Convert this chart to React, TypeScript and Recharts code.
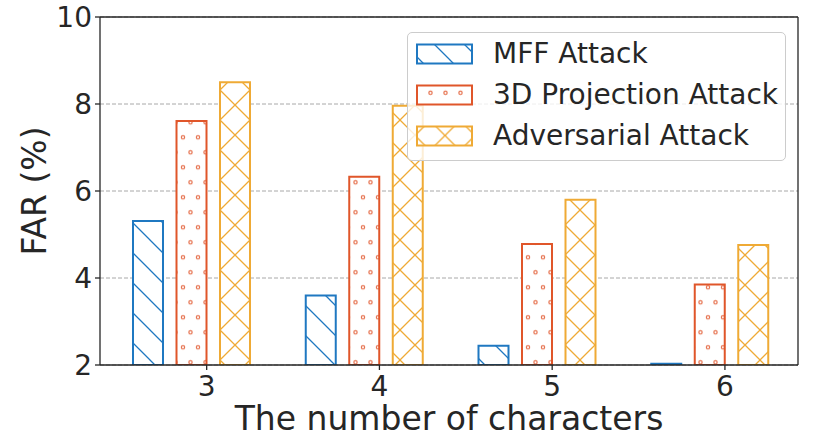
import { Bar, BarChart, CartesianGrid, Legend, XAxis, YAxis } from "recharts";

const categories = ["3", "4", "5", "6"];
const mffAttack = [5.31, 3.6, 2.44, 2.03];
const projectionAttack = [7.61, 6.33, 4.78, 3.85];
const adversarialAttack = [8.5, 7.96, 5.8, 4.76];
const yTicks = [2, 4, 6, 8, 10];
const seriesNames = ["MFF Attack", "3D Projection Attack", "Adversarial Attack"];

const data = categories.map((category, i) => ({
  category,
  mff: mffAttack[i],
  projection: projectionAttack[i],
  adversarial: adversarialAttack[i],
}));

const FONT = "DejaVu Sans";
const INK = "#262626";
const BLUE = "#1f78c1";
const RED = "#e0562a";
const DOT = "#e6704c";
const ORANGE = "#efaa35";

const BAR_W = 30;
const TICK_SHIFT = 15.3;

const mod = (v: number, m: number) => ((v % m) + m) % m;

// hatch tiles live in page coordinates (like matplotlib), so shift them by the svg's offset
function hatchDefs(prefix: string, ox: number, oy: number) {
  return (
    <defs>
      <pattern id={`${prefix}-mff`} patternUnits="userSpaceOnUse" width={30} height={30} x={mod(-ox, 30)} y={mod(-oy, 30)}>
        <rect width={30} height={30} fill="#fff" />
        <path d="M-2,-2L32,32M-2,28L2,32M28,-2L32,2" stroke={BLUE} strokeWidth={1.3} />
      </pattern>
      <pattern id={`${prefix}-projection`} patternUnits="userSpaceOnUse" width={15} height={30} x={mod(3 - ox, 15)} y={mod(17.3 - oy, 30)}>
        <rect width={15} height={30} fill="#fff" />
        {[[0, 0], [15, 0], [0, 30], [15, 30], [7.5, 15]].map(([cx, cy]) => (
          <circle key={`${cx}-${cy}`} cx={cx} cy={cy} r={1.7} fill="none" stroke={DOT} strokeWidth={1.15} />
        ))}
      </pattern>
      <pattern id={`${prefix}-adversarial`} patternUnits="userSpaceOnUse" width={30} height={30} x={mod(10 - ox, 30)} y={mod(-oy, 30)}>
        <rect width={30} height={30} fill="#fff" />
        <path d="M-2,-2L32,32M32,-2L-2,32M-2,28L2,32M28,-2L32,2M28,32L32,28M-2,2L2,-2" stroke={ORANGE} strokeWidth={1.3} />
      </pattern>
    </defs>
  );
}

const seriesKeys = ["mff", "projection", "adversarial"];
const seriesStroke: Record<string, string> = { mff: BLUE, projection: RED, adversarial: ORANGE };

function CharTick({ x, y, payload }: any) {
  const cx = x + TICK_SHIFT;
  return (
    <g>
      <line x1={cx} x2={cx} y1={365} y2={370} stroke={INK} strokeWidth={1.3} />
      <text x={cx} y={y} dy="0.82em" textAnchor="middle" fontSize={28} fontFamily={FONT} fill={INK}>
        {payload.value}
      </text>
    </g>
  );
}

function YTitle({ viewBox }: any) {
  const cy = viewBox.y + viewBox.height / 2;
  return (
    <text x={34} y={cy} transform={`rotate(-90 34 ${cy})`} textAnchor="middle" dominantBaseline="central" fontSize={33} fontFamily={FONT} fill={INK}>
      FAR (%)
    </text>
  );
}

const LEGEND_LEFT = 407;
const LEGEND_TOP = 32;
const rowCenters = [21, 61.5, 102.5];

function LegendBox() {
  return (
    <div
      style={{
        position: "relative",
        width: 379,
        height: 129,
        boxSizing: "border-box",
        border: "1px solid #cccccc",
        borderRadius: 5,
        background: "rgba(255,255,255,0.8)",
        fontFamily: FONT,
        color: INK,
      }}
    >
      {seriesKeys.map((key, i) => {
        const top = rowCenters[i] - 11;
        const ox = LEGEND_LEFT + 1 + 8;
        const oy = LEGEND_TOP + 1 + top;
        return (
          <div key={key}>
            <svg width={58} height={22} style={{ position: "absolute", left: 8, top }}>
              {hatchDefs(`lg${i}`, ox, oy)}
              <rect x={1} y={1.5} width={55} height={19} fill={`url(#lg${i}-${key})`} stroke={seriesStroke[key]} strokeWidth={2} />
            </svg>
            <div style={{ position: "absolute", left: 85, top: rowCenters[i] - 16, height: 32, lineHeight: "32px", fontSize: 28, whiteSpace: "nowrap" }}>
              {seriesNames[i]}
            </div>
          </div>
        );
      })}
    </div>
  );
}

export default function App() {
  return (
    <div style={{ width: 814, height: 441 }}>
      <style>{"body{margin:0}"}</style>
      <BarChart width={814} height={441} data={data} margin={{ top: 16, right: 15, left: 0, bottom: 0 }} barGap={13.5}>
        {hatchDefs("bar", 0, 0)}
        <CartesianGrid vertical={false} stroke="#a8a8a8" strokeDasharray="4 2" strokeWidth={1} />
        <XAxis
          dataKey="category"
          height={76}
          padding={{ left: 5, right: 2 }}
          tickLine={false}
          tickSize={5}
          tickMargin={3}
          tick={<CharTick />}
          axisLine={{ stroke: INK, strokeWidth: 1.3 }}
          label={{ value: "The number of characters", position: "insideBottom", offset: 11, fontSize: 33, fontFamily: FONT, fill: INK }}
        />
        <XAxis xAxisId="top" orientation="top" dataKey="category" height={1} tick={false} tickLine={false} axisLine={{ stroke: INK, strokeWidth: 1.3 }} />
        <YAxis
          width={100}
          domain={[2, 10]}
          ticks={yTicks}
          allowDataOverflow
          tickSize={5}
          tickMargin={3}
          tickLine={{ stroke: INK, strokeWidth: 1.3 }}
          axisLine={{ stroke: INK, strokeWidth: 1.3 }}
          tick={{ fontSize: 28, fontFamily: FONT, fill: INK }}
          label={<YTitle />}
        />
        <YAxis yAxisId="right" orientation="right" width={1} domain={[2, 10]} tick={false} tickLine={false} axisLine={{ stroke: INK, strokeWidth: 1.3 }} />
        {seriesKeys.map((key, i) => (
          <Bar
            key={key}
            dataKey={key}
            name={seriesNames[i]}
            barSize={BAR_W}
            fill={`url(#bar-${key})`}
            stroke={seriesStroke[key]}
            strokeWidth={2}
            isAnimationActive={false}
          />
        ))}
        <Legend
          layout="vertical"
          align="center"
          verticalAlign="middle"
          wrapperStyle={{ left: LEGEND_LEFT, top: LEGEND_TOP, width: 379, height: 129 }}
          content={() => <LegendBox />}
        />
      </BarChart>
    </div>
  );
}
